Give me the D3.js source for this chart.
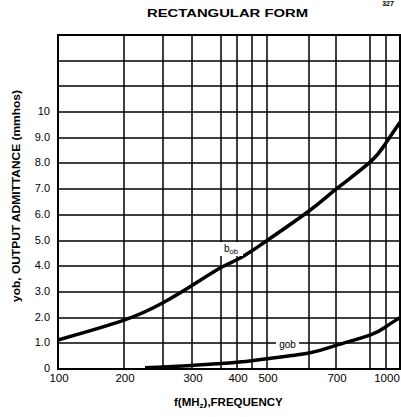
<!DOCTYPE html>
<html>
<head>
<meta charset="utf-8">
<script src="https://cdn.jsdelivr.net/npm/d3@7"></script>
<style>
  html, body { margin: 0; padding: 0; background: #fff; }
  svg { display: block; }
  text { font-family: "Liberation Sans", Arial, sans-serif; fill: #000; }
</style>
</head>
<body>
<svg id="chart" width="401" height="417"></svg>
<script>
// ---- data ----
const freqGrid = [100, 200, 250, 300, 350, 400, 450, 500, 600, 700, 900, 1000, 1100];
const xTickLabels = [100, 200, 300, 400, 500, 700, 1000];
const yGridValues = [1, 2, 3, 4, 5, 6, 7, 8, 9, 10, 11, 12];
const yTickValues = [0, 1, 2, 3, 4, 5, 6, 7, 8, 9, 10];
const yTickLabels = ["0", "1.0", "2.0", "3.0", "4.0", "5.0", "6.0", "7.0", "8.0", "9.0", "10"];
const bobFreq = [100, 200, 250, 300, 350, 400, 450, 500, 600, 700, 900, 1000, 1100];
const bobVal  = [1.13, 1.9, 2.58, 3.25, 3.95, 4.25, 4.6, 5.0, 6.15, 7.0, 8.05, 8.8, 9.6];
const gobFreq = [227, 250, 300, 350, 400, 450, 500, 600, 700, 900, 1000, 1100];
const gobVal  = [0.05, 0.08, 0.14, 0.21, 0.26, 0.32, 0.40, 0.62, 0.92, 1.32, 1.65, 2.0];

// ---- layout ----
const svg = d3.select("#chart");
const pLeft = 58, pRight = 400, pTop = 35, pBottom = 369;

// The printed frequency axis is irregularly ruled: piecewise scale through the grid rulings
const x = d3.scaleLinear()
  .domain(freqGrid)
  .range([58, 124, 163, 192, 221, 237, 252, 267, 309, 336, 370, 386, 400]);
const y = d3.scaleLinear().domain([0, 13]).range([pBottom, pTop]);

// title + page number
svg.append("text").attr("x", 388).attr("y", 6).attr("text-anchor", "middle")
  .attr("font-size", 7).attr("font-weight", "bold").text("327");
svg.append("text").attr("x", 147).attr("y", 17)
  .attr("font-size", 11.5).attr("font-weight", "bold")
  .attr("textLength", 161).attr("lengthAdjust", "spacingAndGlyphs")
  .text("RECTANGULAR FORM");

const g = svg.append("g");

// horizontal grid
g.selectAll("line.hgrid").data(yGridValues).join("line")
  .attr("class", "hgrid")
  .attr("x1", pLeft).attr("x2", pRight)
  .attr("y1", d => Math.round(y(d))).attr("y2", d => Math.round(y(d)))
  .attr("stroke", "#000").attr("stroke-width", 1.5);

// vertical grid
g.selectAll("line.vgrid").data(freqGrid.slice(1, -1)).join("line")
  .attr("class", "vgrid")
  .attr("x1", d => Math.round(x(d))).attr("x2", d => Math.round(x(d)))
  .attr("y1", pTop).attr("y2", pBottom)
  .attr("stroke", "#000").attr("stroke-width", 1.5);

// frame
g.append("rect").attr("x", pLeft).attr("y", pTop)
  .attr("width", pRight - pLeft).attr("height", pBottom - pTop)
  .attr("fill", "none").attr("stroke", "#000").attr("stroke-width", 2);

// curves
const line = d3.line().x(d => x(d[0])).y(d => y(d[1])).curve(d3.curveNatural);
g.append("path").datum(bobFreq.map((f, i) => [f, bobVal[i]]))
  .attr("d", line).attr("fill", "none").attr("stroke", "#000").attr("stroke-width", 3.5);
g.append("path").datum(gobFreq.map((f, i) => [f, gobVal[i]]))
  .attr("d", line).attr("fill", "none").attr("stroke", "#000").attr("stroke-width", 3.5);

// curve labels
g.append("rect").attr("x", 219).attr("y", 242).attr("width", 24).attr("height", 14).attr("fill", "#fff");
const bl = g.append("text").attr("x", 224).attr("y", 252).attr("font-size", 10);
bl.append("tspan").text("b");
bl.append("tspan").attr("font-size", 7.5).attr("dy", 2).text("ob");

g.append("rect").attr("x", 276).attr("y", 340).attr("width", 23).attr("height", 11).attr("fill", "#fff");
g.append("text").attr("x", 287.5).attr("y", 348).attr("text-anchor", "middle")
  .attr("font-size", 10).text("gob");

// x tick labels
svg.selectAll("text.xt").data(xTickLabels).join("text")
  .attr("class", "xt")
  .attr("x", d => x(d) + 1).attr("y", 382).attr("text-anchor", "middle")
  .attr("font-size", 11.5).text(d => d);

// y tick labels
svg.selectAll("text.yt").data(yTickValues).join("text")
  .attr("class", "yt")
  .attr("x", 50).attr("y", d => y(d) + 3).attr("text-anchor", "end")
  .attr("font-size", 11).text((d, i) => yTickLabels[i]);

// y axis title
svg.append("text")
  .attr("transform", "translate(20,196) rotate(-90)")
  .attr("text-anchor", "middle").attr("font-size", 10.5).attr("font-weight", "bold")
  .attr("textLength", 212).attr("lengthAdjust", "spacingAndGlyphs")
  .text("yob, OUTPUT ADMITTANCE (mmhos)");

// x axis title
const xt = svg.append("text").attr("x", 174).attr("y", 406)
  .attr("font-size", 11.5).attr("font-weight", "bold");
xt.append("tspan").text("f(MH");
xt.append("tspan").attr("font-size", 8).attr("dy", 2).text("z");
xt.append("tspan").attr("dy", -2).text("),FREQUENCY");
</script>
</body>
</html>
